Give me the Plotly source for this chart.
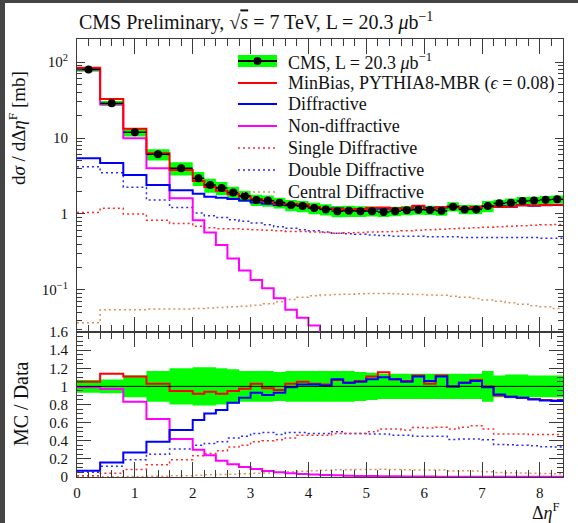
import plotly.graph_objects as go

# ---------------- data ----------------
edges = [0.0, 0.4, 0.8, 1.2, 1.6, 2.0, 2.2, 2.4, 2.6, 2.8, 3.0, 3.2, 3.4, 3.6, 3.8, 4.0,
         4.2, 4.4, 4.6, 4.8, 5.0, 5.2, 5.4, 5.6, 5.8, 6.0, 6.2, 6.4, 6.6, 6.8, 7.0, 7.2,
         7.4, 7.6, 7.8, 8.0, 8.2, 8.4]

data_xs = [80, 28.6, 11.9, 6.1, 4.0, 2.95, 2.41, 2.2, 1.92, 1.73, 1.53, 1.50, 1.41, 1.31,
           1.27, 1.20, 1.15, 1.09, 1.10, 1.09, 1.09, 1.06, 1.09, 1.12, 1.14, 1.13, 1.10,
           1.25, 1.15, 1.15, 1.27, 1.38, 1.41, 1.48, 1.50, 1.54, 1.56]
data_relerr = [0.07, 0.075, 0.12, 0.17, 0.20, 0.21, 0.21, 0.20, 0.19, 0.17, 0.17, 0.17,
               0.16, 0.17, 0.17, 0.17, 0.17, 0.17, 0.17, 0.16, 0.15, 0.14, 0.14, 0.14,
               0.14, 0.14, 0.14, 0.14, 0.14, 0.14, 0.17, 0.12, 0.13, 0.13, 0.12, 0.12, 0.12]

mb_xs = [84, 32.6, 13.2, 6.3, 3.8, 2.71, 2.27, 2.02, 1.82, 1.69, 1.58, 1.47, 1.35, 1.35,
         1.33, 1.24, 1.17, 1.17, 1.14, 1.16, 1.21, 1.22, 1.18, 1.19, 1.28, 1.16, 1.23,
         1.25, 1.20, 1.23, 1.27, 1.24, 1.25, 1.30, 1.29, 1.31, 1.32]
diff_xs = [5.4, 4.7, 3.25, 2.4, 2.05, 1.85, 1.69, 1.63, 1.57, 1.51, 1.42, 1.36, 1.31, 1.30,
           1.30, 1.22, 1.16, 1.18, 1.14, 1.14, 1.18, 1.17, 1.18, 1.18, 1.27, 1.20, 1.22,
           1.25, 1.20, 1.22, 1.26, 1.26, 1.25, 1.30, 1.28, 1.30, 1.31]
nd_xs = [79, 27.8, 9.9, 4.0, 1.61, 0.83, 0.57, 0.39, 0.26, 0.18, 0.135, 0.105, 0.078,
         0.055, 0.043, 0.034, 0.026, 0.020, 0.016, 0.013, 0.011, 0.009, 0.008, 0.007,
         0.006, 0.005, 0.005, 0.004, 0.004, 0.004, 0.003, 0.003, 0.003, 0.003, 0.002,
         0.002, 0.002]
sd_xs = [1.05, 1.19, 1.0, 0.83, 0.75, 0.69, 0.66, 0.64, 0.64, 0.63, 0.62, 0.61, 0.60,
         0.59, 0.59, 0.58, 0.57, 0.56, 0.565, 0.57, 0.58, 0.585, 0.59, 0.60, 0.61, 0.62,
         0.63, 0.64, 0.65, 0.66, 0.67, 0.68, 0.69, 0.70, 0.71, 0.72, 0.73]
dd_xs = [4.2, 3.5, 2.25, 1.53, 1.22, 1.03, 0.95, 0.90, 0.84, 0.80, 0.76, 0.72, 0.68, 0.65,
         0.62, 0.60, 0.58, 0.56, 0.55, 0.54, 0.53, 0.52, 0.51, 0.51, 0.51, 0.50, 0.50,
         0.50, 0.49, 0.49, 0.49, 0.49, 0.49, 0.49, 0.49, 0.48, 0.48]
cd_xs = [0.037, 0.055, 0.055, 0.056, 0.056, 0.057, 0.058, 0.059, 0.060, 0.061, 0.063,
         0.066, 0.070, 0.075, 0.080, 0.084, 0.086, 0.087, 0.088, 0.089, 0.090, 0.090,
         0.089, 0.088, 0.087, 0.086, 0.085, 0.083, 0.080, 0.077, 0.074, 0.071, 0.068,
         0.065, 0.062, 0.060, 0.057]

mb_ratio = [1.05, 1.14, 1.11, 1.03, 0.95, 0.92, 0.94, 0.92, 0.95, 0.975, 1.03, 0.98, 0.96,
            1.03, 1.05, 1.03, 1.02, 1.07, 1.04, 1.06, 1.11, 1.155, 1.08, 1.06, 1.12, 1.03,
            1.12, 1.00, 1.04, 1.07, 1.00, 0.90, 0.885, 0.875, 0.86, 0.85, 0.845]
diff_ratio = [0.07, 0.16, 0.27, 0.39, 0.52, 0.63, 0.70, 0.74, 0.82, 0.875, 0.93, 0.905,
              0.93, 0.99, 1.02, 1.02, 1.01, 1.08, 1.04, 1.05, 1.08, 1.10, 1.08, 1.05, 1.11,
              1.06, 1.11, 1.00, 1.04, 1.06, 0.99, 0.91, 0.885, 0.875, 0.855, 0.845, 0.84]
nd_ratio = [0.99, 0.97, 0.83, 0.64, 0.42, 0.30, 0.24, 0.18, 0.14, 0.11, 0.088, 0.065,
            0.052, 0.042, 0.034, 0.028, 0.022, 0.018, 0.015, 0.012, 0.010, 0.008, 0.007,
            0.006, 0.005, 0.005, 0.004, 0.004, 0.003, 0.003, 0.003, 0.002, 0.002, 0.002,
            0.002, 0.002, 0.002]
sd_ratio = [0.013, 0.042, 0.084, 0.135, 0.19, 0.235, 0.26, 0.29, 0.33, 0.35, 0.39, 0.40,
            0.41, 0.43, 0.46, 0.46, 0.46, 0.48, 0.48, 0.48, 0.50, 0.53, 0.53, 0.52, 0.545,
            0.54, 0.55, 0.53, 0.55, 0.565, 0.53, 0.475, 0.475, 0.475, 0.47, 0.47, 0.47]
dd_ratio = [0.053, 0.12, 0.19, 0.25, 0.31, 0.35, 0.37, 0.39, 0.43, 0.45, 0.48, 0.49, 0.47,
            0.49, 0.49, 0.48, 0.48, 0.50, 0.48, 0.48, 0.475, 0.475, 0.46, 0.46, 0.45, 0.45,
            0.45, 0.415, 0.42, 0.42, 0.41, 0.36, 0.355, 0.35, 0.345, 0.335, 0.33]
cd_ratio = [0.0005, 0.002, 0.005, 0.009, 0.014, 0.019, 0.024, 0.027, 0.031, 0.035, 0.041,
            0.044, 0.050, 0.057, 0.063, 0.070, 0.075, 0.080, 0.080, 0.082, 0.083, 0.085,
            0.082, 0.079, 0.076, 0.076, 0.077, 0.066, 0.070, 0.067, 0.058, 0.051, 0.048,
            0.044, 0.041, 0.039, 0.037]

legend_labels = ["CMS, L = 20.3 <i>μ</i>b<sup>−1</sup>",
                 "MinBias, PYTHIA8-MBR (<i>ϵ</i> = 0.08)",
                 "Diffractive", "Non-diffractive", "Single Diffractive",
                 "Double Diffractive", "Central Diffractive"]
title_text = ("CMS Preliminary, √<span style='text-decoration:overline'><i>s</i></span>"
              " = 7 TeV, L = 20.3 <i>μ</i>b<sup>−1</sup>")

x_ticks = [0, 1, 2, 3, 4, 5, 6, 7, 8]
top_tickvals = [0.1, 1, 10, 100]
top_ticktext = ["10<sup>−1</sup>", "1", "10", "10<sup>2</sup>"]
top_minor = [0.03, 0.04, 0.05, 0.06, 0.07, 0.08, 0.09, 0.2, 0.3, 0.4, 0.5, 0.6, 0.7,
             0.8, 0.9, 2, 3, 4, 5, 6, 7, 8, 9, 20, 30, 40, 50, 60, 70, 80, 90, 200]
ratio_tickvals = [0, 0.2, 0.4, 0.6, 0.8, 1.0, 1.2, 1.4, 1.6]
ratio_ticktext = ["0", "0.2", "0.4", "0.6", "0.8", "1", "1.2", "1.4", "1.6"]

# ---------------- style ----------------
FONT = "Liberation Serif"
W, H = 578, 523
L, R, T, B = 77, 563, 39, 477
GREEN = "#00ff00"
RED, BLUE, MAG = "#ff0000", "#0000ff", "#ff00ff"
SDC, DDC, CDC = "#ff2a2a", "#2a2aff", "#dc9258"
FRAME = "#3a3a3a"
DOT = "2px,3px"

def px2x(px):
    return (px - L) / (R - L)

def px2y(py):
    return (B - py) / (B - T)

split = px2y(332)

centers = [(edges[i] + edges[i + 1]) / 2 for i in range(len(data_xs))]
halfw = [(edges[i + 1] - edges[i]) / 2 for i in range(len(data_xs))]

def step(vals):
    return list(vals) + [vals[-1]]

def boxes(lo, hi):
    xs, ys = [], []
    for i in range(len(lo)):
        e0, e1 = edges[i], edges[i + 1]
        xs += [e0, e1, e1, e0, e0, None]
        ys += [lo[i], lo[i], hi[i], hi[i], lo[i], None]
    return xs, ys

fig = go.Figure()

# ---- top panel ----
bx, by = boxes([v * (1 - e) for v, e in zip(data_xs, data_relerr)],
               [v * (1 + e) for v, e in zip(data_xs, data_relerr)])
fig.add_trace(go.Scatter(x=bx, y=by, fill="toself", fillcolor=GREEN, mode="lines",
                         line=dict(width=0, color=GREEN), xaxis="x2", yaxis="y2",
                         hoverinfo="skip", showlegend=False))
top_series = [
    (cd_xs, CDC, 1.5, DOT), (dd_xs, DDC, 1.5, DOT), (sd_xs, SDC, 1.5, DOT),
    (nd_xs, MAG, 2, None), (diff_xs, BLUE, 2, None), (mb_xs, RED, 2, None),
]
for vals, col, w, dash in top_series:
    fig.add_trace(go.Scatter(x=edges, y=step(vals), mode="lines", line_shape="hv",
                             line=dict(color=col, width=w, dash=dash),
                             xaxis="x2", yaxis="y2", showlegend=False))
fig.add_trace(go.Scatter(x=centers, y=data_xs, mode="markers",
                         marker=dict(color="black", size=8),
                         error_x=dict(type="data", array=halfw, color="black",
                                      thickness=1.5, width=0),
                         xaxis="x2", yaxis="y2", showlegend=False))

# ---- ratio panel ----
rx, ry = boxes([1 - e for e in data_relerr], [1 + e for e in data_relerr])
fig.add_trace(go.Scatter(x=rx, y=ry, fill="toself", fillcolor=GREEN, mode="lines",
                         line=dict(width=0, color=GREEN), xaxis="x", yaxis="y",
                         hoverinfo="skip", showlegend=False))
ratio_series = [
    (cd_ratio, CDC, 1.5, DOT), (dd_ratio, DDC, 1.5, DOT), (sd_ratio, SDC, 1.5, DOT),
    (nd_ratio, MAG, 2, None), (mb_ratio, RED, 2, None), (diff_ratio, BLUE, 2, None),
]
for vals, col, w, dash in ratio_series:
    fig.add_trace(go.Scatter(x=edges, y=step(vals), mode="lines", line_shape="hv",
                             line=dict(color=col, width=w, dash=dash),
                             xaxis="x", yaxis="y", showlegend=False))

shapes = []
# unity line in ratio panel
shapes.append(dict(type="line", xref="x domain", yref="y", x0=0, x1=1, y0=1, y1=1,
                   line=dict(color="black", width=1), layer="above"))
# dark screenshot border (left and top)
shapes.append(dict(type="rect", xref="paper", yref="paper", x0=px2x(0), x1=px2x(5),
                   y0=px2y(W), y1=px2y(0), fillcolor="#454545", line=dict(width=0)))
shapes.append(dict(type="rect", xref="paper", yref="paper", x0=px2x(0), x1=px2x(W),
                   y0=px2y(3), y1=px2y(0), fillcolor="#454545", line=dict(width=0)))

# ---- manual legend ----
annotations = []
rows = [61, 83, 104, 126, 148, 170, 192]
sx0, sx1, tx = 238, 277, 286
styles = [None, (RED, 2, None), (BLUE, 2, None), (MAG, 2, None),
          (SDC, 1.5, DOT), (DDC, 1.5, DOT), (CDC, 1.5, DOT)]
for lab, ry_, st in zip(legend_labels, rows, styles):
    if st is None:
        shapes.append(dict(type="rect", xref="paper", yref="paper", x0=px2x(sx0),
                           x1=px2x(sx1), y0=px2y(ry_ + 6), y1=px2y(ry_ - 6),
                           fillcolor=GREEN, line=dict(width=0)))
        shapes.append(dict(type="line", xref="paper", yref="paper", x0=px2x(sx0),
                           x1=px2x(sx1), y0=px2y(ry_), y1=px2y(ry_),
                           line=dict(color="black", width=2)))
        cx = (sx0 + sx1) / 2
        shapes.append(dict(type="circle", xref="paper", yref="paper",
                           x0=px2x(cx - 4), x1=px2x(cx + 4), y0=px2y(ry_ + 4),
                           y1=px2y(ry_ - 4), fillcolor="black", line=dict(width=0)))
    else:
        col, w, dash = st
        shapes.append(dict(type="line", xref="paper", yref="paper", x0=px2x(sx0),
                           x1=px2x(sx1), y0=px2y(ry_), y1=px2y(ry_),
                           line=dict(color=col, width=w, dash=dash)))
    annotations.append(dict(text=lab, xref="paper", yref="paper", x=px2x(tx),
                            y=px2y(ry_), xanchor="left", yanchor="middle",
                            showarrow=False, font=dict(family=FONT, size=18, color="#111")))

# titles
annotations.append(dict(text=title_text, xref="paper", yref="paper", x=px2x(77),
                        y=px2y(21), xanchor="left", yanchor="middle", showarrow=False,
                        font=dict(family=FONT, size=20, color="#111")))
annotations.append(dict(text="d<i>σ</i> / dΔ<i>η</i><sup>F</sup> [mb]", xref="paper",
                        yref="paper", x=px2x(17), y=px2y(128), textangle=-90,
                        xanchor="center", yanchor="middle", showarrow=False,
                        font=dict(family=FONT, size=19, color="#111")))
annotations.append(dict(text="MC / Data", xref="paper", yref="paper", x=px2x(21),
                        y=px2y(404), textangle=-90, xanchor="center", yanchor="middle",
                        showarrow=False, font=dict(family=FONT, size=20, color="#111")))
annotations.append(dict(text="Δ<i>η</i><sup>F</sup>", xref="paper", yref="paper",
                        x=px2x(562), y=px2y(511), xanchor="right", yanchor="middle",
                        showarrow=False, font=dict(family=FONT, size=18, color="#111")))

tickfont = dict(family=FONT, size=15, color="#111")
common_x = dict(range=[0, 8.4], tickmode="array", tickvals=x_ticks, ticks="inside",
                ticklen=15, tickcolor=FRAME, tickwidth=1, showline=True, linecolor=FRAME,
                linewidth=1, mirror="allticks", showgrid=False, zeroline=False,
                minor=dict(dtick=0.2, tick0=0, ticks="inside", ticklen=7,
                           tickcolor=FRAME, tickwidth=1, showgrid=False))

fig.update_layout(
    width=W, height=H,
    margin=dict(l=L, r=W - R, t=T, b=H - B),
    paper_bgcolor="white", plot_bgcolor="white",
    showlegend=False,
    xaxis=dict(domain=[0, 1], anchor="y", tickfont=tickfont, ticklabelstandoff=2,
               **common_x),
    yaxis=dict(domain=[0, split], anchor="x", range=[0, 1.6], tickmode="array",
               tickvals=ratio_tickvals, ticktext=ratio_ticktext, ticks="inside",
               ticklen=14, tickcolor=FRAME, tickwidth=1, showline=True, linecolor=FRAME,
               linewidth=1, mirror="allticks", showgrid=False, zeroline=False,
               tickfont=tickfont, ticklabelstandoff=5,
               minor=dict(dtick=0.05, tick0=0, ticks="inside", ticklen=6,
                          tickcolor=FRAME, tickwidth=1, showgrid=False)),
    xaxis2=dict(domain=[0, 1], anchor="y2", matches="x", showticklabels=False,
                **common_x),
    yaxis2=dict(domain=[split, 1], anchor="x2", type="log", range=[-1.553, 2.303],
                tickmode="array", tickvals=top_tickvals, ticktext=top_ticktext,
                ticks="inside", ticklen=8, tickcolor=FRAME, tickwidth=1, showline=True,
                linecolor=FRAME, linewidth=1, mirror="allticks", showgrid=False,
                zeroline=False, tickfont=tickfont, ticklabelstandoff=5,
                minor=dict(tickmode="array", tickvals=top_minor, ticks="inside",
                           ticklen=5, tickcolor=FRAME, tickwidth=1, showgrid=False)),
    shapes=shapes,
    annotations=annotations,
)

fig.write_html("out.html")
